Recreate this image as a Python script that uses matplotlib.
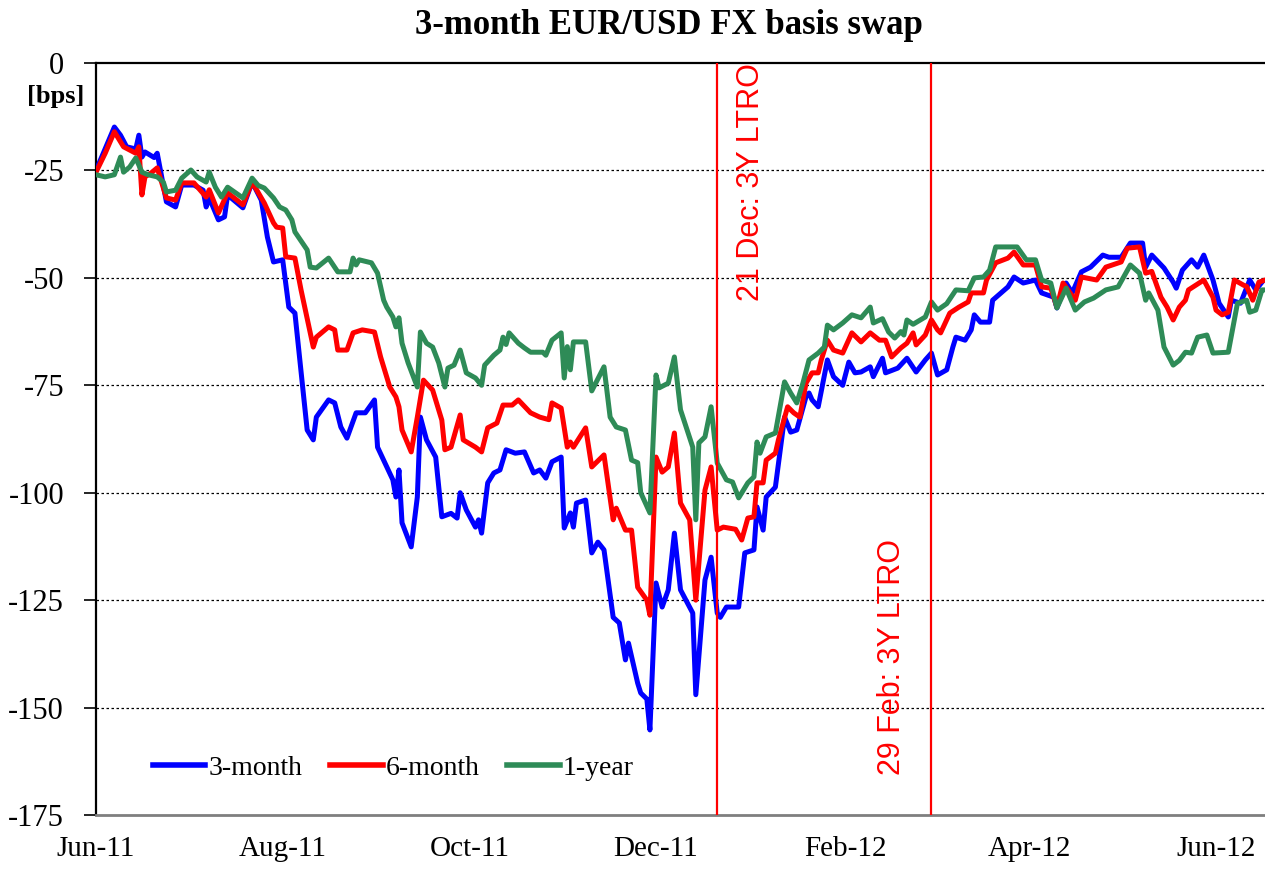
import pandas as pd
import matplotlib
matplotlib.use("Agg")
import matplotlib.pyplot as plt
import matplotlib.dates as mdates

# Config
START = pd.Timestamp("2011-06-01")
END_DAYS = 382
SERIF = "Liberation Serif"
SANS = "Liberation Sans"

# ----------------------------- Data (days since 1 Jun 2011, bps) -----------------------------

days_3m = [0, 6, 8, 10, 13, 14, 15, 16, 19, 20, 23, 26, 28, 32, 35, 36, 37, 40, 42, 43,
           48, 51, 54, 56, 58, 61, 63, 65, 69, 71, 72, 76, 78, 80, 82, 85, 88, 91, 92, 97,
           98, 99, 100, 103, 105, 106, 108, 111, 113, 116, 118, 119, 121, 124, 125, 126, 128, 130, 132, 134,
           137, 140, 143, 145, 147, 149, 152, 153, 155, 156, 157, 160, 162, 164, 166, 169, 171, 173, 174, 177,
           178, 180, 181, 183, 185, 187, 189, 191, 195, 196, 199, 201, 203, 204, 206, 210, 212, 215, 216, 218,
           219, 222, 225, 227, 229, 232, 233, 234, 236, 239, 241, 244, 246, 248, 250, 253, 254, 257, 258, 262,
           265, 268, 271, 273, 275, 278, 280, 281, 284, 286, 287, 289, 292, 293, 298, 300, 303, 307, 309, 313,
           314, 317, 319, 322, 325, 329, 331, 335, 338, 342, 343, 345, 349, 352, 353, 355, 358, 360, 362, 365,
           367, 370, 371, 374, 377, 379, 381]
bps_3m = [-25, -14.9, -16.8, -19.5, -20, -16.8, -21.9, -20.7, -22, -21, -32.3, -33.5, -28.4, -28.4, -29.6, -33.5, -31.4, -36.5, -35.8, -30.7,
          -33.7, -27.7, -31.9, -40.5, -46.3, -45.8, -56.8, -58.2, -85.4, -87.7, -82.4, -78.4, -79.1, -84.7, -87.3, -81.4, -81.4, -78.4, -89.4, -97,
          -101, -94.7, -107, -112.6, -101, -82.4, -87.7, -91.7, -105.6, -104.8, -105.9, -100, -104, -108, -106.3, -109.4, -97.7, -95.4, -94.7, -90,
          -90.8, -90.5, -95.4, -94.7, -96.6, -92.8, -91.7, -108.2, -104.7, -108, -102.4, -101.7, -114, -111.5, -113.3, -129, -130.3, -138.9, -135, -144.3,
          -146.6, -148, -155.2, -121, -126.6, -122.6, -109.4, -122.6, -128, -147, -120.3, -115, -128, -129, -126.6, -126.6, -114, -113.3, -103.3, -108.7,
          -101, -98.7, -82.4, -85.9, -85.4, -77.7, -76.8, -78.4, -80, -69.1, -73, -75, -69.6, -72.1, -71.9, -70.7, -73, -68.7, -72.1, -71,
          -68.7, -71.9, -69.1, -67.5, -72.6, -71.4, -66.1, -63.8, -64.5, -62.1, -58.6, -60.3, -60.3, -55.2, -52.1, -49.8, -51.2, -50.5, -53.5, -54.5,
          -57, -51.2, -53.5, -48.6, -47.5, -44.7, -45.2, -45.2, -41.9, -41.9, -47.5, -44.7, -47.7, -51, -52.4, -48.2, -45.8, -47.5, -44.7, -50.5,
          -55.9, -59.1, -55.2, -55.9, -50.5, -52.8, -51]

days_6m = [0, 3, 6, 9, 13, 14, 15, 16, 18, 20, 23, 26, 28, 32, 36, 37, 40, 43, 48, 51,
           55, 58, 59, 61, 62, 65, 67, 70, 71, 72, 76, 78, 79, 82, 84, 87, 91, 93, 96, 98,
           99, 100, 103, 105, 107, 110, 113, 114, 116, 119, 120, 124, 126, 128, 131, 133, 136, 138, 142, 145,
           148, 149, 152, 154, 155, 156, 160, 162, 166, 169, 170, 173, 175, 177, 180, 181, 183, 185, 187, 189,
           191, 194, 196, 199, 201, 203, 205, 209, 211, 213, 215, 216, 218, 219, 222, 223, 226, 228, 230, 232,
           234, 236, 237, 239, 241, 244, 247, 250, 253, 256, 258, 260, 263, 265, 267, 268, 271, 273, 275, 276,
           279, 282, 285, 286, 290, 291, 294, 298, 300, 303, 307, 309, 312, 314, 316, 320, 322, 327, 330, 335,
           337, 341, 343, 345, 348, 350, 352, 354, 356, 357, 362, 365, 366, 368, 370, 372, 375, 376, 378, 380,
           382]
bps_6m = [-25.4, -21, -16, -19.5, -21, -19.5, -30.7, -26.5, -25.6, -24.4, -31.4, -31.9, -27.9, -27.9, -31.2, -29.5, -34.9, -30.2, -33, -27.7,
          -32.6, -37.2, -38.2, -38.4, -45.1, -45.4, -52.8, -62.8, -66.1, -63.8, -61.4, -62.1, -66.8, -66.8, -62.8, -62.1, -62.6, -68.4, -75.4, -77.7,
          -80, -85.4, -90.5, -82.4, -73.8, -76.1, -83.1, -90, -89.4, -81.9, -87.7, -89.4, -90.5, -84.9, -83.8, -79.6, -79.6, -78.4, -81.4, -82.4,
          -83, -79.1, -80.3, -89.4, -88.2, -89.4, -84.9, -94, -91.2, -106.3, -103.6, -108.7, -108.7, -122, -125, -128.5, -91.7, -95.2, -94, -86.1,
          -102.4, -106.3, -125, -99.4, -94, -108.7, -108, -108.5, -111, -105.9, -105.6, -97.7, -97.7, -92.4, -90.8, -87.7, -80, -81.4, -82.4, -74.5,
          -72.1, -72.1, -69.1, -64.5, -66.8, -67.5, -62.8, -64.9, -62.8, -64.5, -64.5, -68.4, -66.3, -65.2, -62.8, -65.6, -63.3, -59.8, -62.1, -62.8,
          -58.2, -56.8, -55.6, -53.5, -53.5, -50.5, -46.5, -45.4, -44, -47, -47, -52.1, -52.4, -56.8, -51.2, -55.2, -49.8, -50.5, -47.5, -46.3,
          -43.1, -42.8, -48.9, -48.5, -54.5, -56.8, -59.8, -56.8, -55.2, -52.8, -50.5, -54.5, -57.5, -58.6, -58, -50.5, -51.7, -52, -55.2, -51,
          -50.5]

days_1y = [0, 3, 6, 8, 9, 11, 13, 15, 17, 20, 22, 23, 26, 28, 31, 33, 36, 37, 39, 41,
           43, 48, 51, 53, 55, 58, 60, 62, 64, 65, 69, 70, 72, 76, 79, 83, 84, 85, 86, 90,
           92, 94, 95, 97, 98, 99, 100, 102, 105, 106, 108, 110, 112, 114, 115, 117, 119, 121, 124, 126,
           127, 130, 132, 133, 134, 135, 138, 140, 142, 146, 147, 149, 152, 153, 154, 155, 156, 160, 162, 166,
           168, 170, 173, 175, 177, 178, 181, 183, 184, 187, 189, 191, 195, 196, 197, 199, 201, 203, 206, 208,
           210, 213, 215, 216, 217, 219, 222, 225, 227, 229, 231, 233, 236, 238, 239, 241, 244, 247, 250, 253,
           254, 257, 259, 261, 263, 264, 265, 267, 271, 273, 275, 278, 281, 285, 287, 290, 292, 294, 298, 301,
           304, 307, 309, 312, 314, 317, 320, 323, 326, 330, 334, 338, 341, 343, 344, 347, 349, 352, 354, 356,
           358, 360, 363, 365, 370, 373, 376, 377, 379, 381, 382]
bps_1y = [-26, -26.5, -26, -21.9, -25.4, -24.2, -22.1, -25.4, -26, -26.5, -27.7, -30, -29.6, -26.8, -24.9, -26.5, -27.7, -25.4, -28.9, -31.2,
          -28.9, -31.4, -26.8, -28.5, -29.1, -31.4, -33.5, -34.2, -36.5, -39.3, -43.5, -47.5, -47.7, -45.4, -48.6, -48.6, -45.4, -47, -45.8, -46.5,
          -48.9, -55.2, -56.8, -59.1, -61.4, -59.3, -65.2, -69.8, -75.4, -62.6, -65.2, -66.1, -69.8, -75.4, -71, -70.3, -66.8, -72.1, -73.3, -75,
          -70.3, -68, -66.8, -63.8, -65.5, -62.8, -65.2, -66.3, -67.3, -67.3, -68, -64.5, -62.8, -73.3, -66, -71.4, -64.9, -64.9, -76.3, -70.7,
          -82.4, -84.7, -85.4, -92.4, -93, -100, -104.7, -72.6, -75.6, -74.5, -68.4, -80.7, -89.4, -106.3, -88.4, -87, -80, -93.1, -97, -97.5,
          -101.2, -97.7, -96.3, -88.2, -90.8, -87, -86.1, -74.2, -76.8, -79.1, -74.5, -69.1, -67.5, -66.1, -61, -62.1, -60.5, -58.6, -59.3, -56.8,
          -60.5, -59.5, -62.6, -64, -62.5, -63.3, -59.8, -60.8, -59.1, -55.6, -57.5, -56, -52.8, -53, -50, -49.8, -48.2, -42.8, -42.8, -42.8,
          -45.8, -45.8, -50.5, -51.2, -57, -52.4, -57.5, -55.6, -54.7, -52.8, -52.1, -47, -48.9, -55.2, -53.5, -57.5, -66.1, -70.3, -69.2, -67.3,
          -67.5, -63.8, -63.3, -67.5, -67.3, -55.9, -55.2, -58, -57.5, -52.8, -52.8]

series_labels = ["3-month", "6-month", "1-year"]
series_colors = ["#0000ff", "#ff0000", "#2e8b57"]

ltro_dates = ["2011-12-21", "2012-02-29"]
ltro_labels = ["21 Dec: 3Y LTRO", "29 Feb: 3Y LTRO"]

y_ticks = [0, -25, -50, -75, -100, -125, -150, -175]
x_tick_dates = ["2011-06-01", "2011-08-01", "2011-10-01", "2011-12-01",
                "2012-02-01", "2012-04-01", "2012-06-01"]


def to_dates(days):
    return START + pd.to_timedelta(days, unit="D")

# ----------------------------- Plot -----------------------------

fig = plt.figure(figsize=(12.65, 8.69), dpi=100)
ax = fig.add_axes([0.0759, 0.0621, 0.9241, 0.8654])

all_days = [days_3m, days_6m, days_1y]
all_bps = [bps_3m, bps_6m, bps_1y]
for d, v, lab, col in zip(all_days, all_bps, series_labels, series_colors):
    ax.plot(to_dates(d), v, color=col, lw=3.6, label=lab, solid_joinstyle="round", zorder=3)

for yv in y_ticks[1:-1]:
    ax.axhline(yv, color="black", lw=0.9, ls=(0, (2, 2)), zorder=1)

for dt in ltro_dates:
    ax.axvline(pd.Timestamp(dt), color="red", lw=1.6, zorder=4)

# rotated event labels
ax.text(START + pd.Timedelta(days=214), -27.7, ltro_labels[0], rotation=90,
        color="red", fontsize=22, family=SANS, ha="center", va="center")
ax.text(START + pd.Timedelta(days=260), -138.2, ltro_labels[1], rotation=90,
        color="red", fontsize=22, family=SANS, ha="center", va="center")

ax.set_xlim(START, START + pd.Timedelta(days=END_DAYS))
ax.set_ylim(-175, 0)
ax.set_yticks(y_ticks)
ax.set_yticklabels([str(t) for t in y_ticks], family=SERIF, fontsize=22)
ax.set_xticks([pd.Timestamp(t) for t in x_tick_dates])
ax.xaxis.set_major_formatter(mdates.DateFormatter("%b-%y"))
for lbl in ax.get_xticklabels():
    lbl.set_family(SERIF)
    lbl.set_fontsize(21)

ax.tick_params(axis="y", direction="out", length=9, width=1.2, pad=14)
ax.tick_params(axis="x", length=0, pad=15)

ax.spines["right"].set_visible(False)
ax.spines["top"].set_linewidth(1.6)
ax.spines["left"].set_linewidth(1.6)
ax.spines["bottom"].set_color("#7f7f7f")
ax.spines["bottom"].set_linewidth(2.0)

leg = ax.legend(loc="lower left", bbox_to_anchor=(0.027, 0.012), ncol=3, frameon=False,
                prop={"family": SERIF, "size": 20}, handlelength=1.9, handletextpad=0.1,
                columnspacing=1.0)
for line in leg.get_lines():
    line.set_linewidth(4)

fig.text(0.529, 0.971, "3-month EUR/USD FX basis swap", family=SERIF, fontsize=25,
         fontweight="bold", ha="center", va="center")
fig.text(0.044, 0.889, "[bps]", family=SERIF, fontsize=19, fontweight="bold",
         ha="center", va="center")

plt.savefig("out.png", dpi=100)
plt.close()
